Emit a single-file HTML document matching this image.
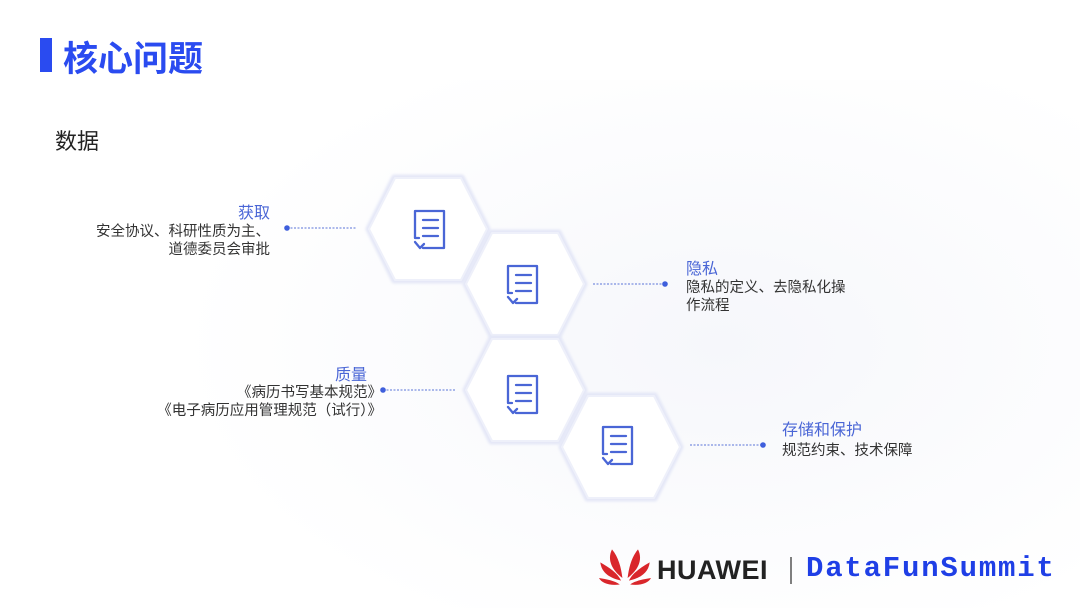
<!DOCTYPE html>
<html><head><meta charset="utf-8"><style>
html,body{margin:0;padding:0;background:#fff;}
body{width:1080px;height:608px;overflow:hidden;position:relative;font-family:"Liberation Sans","Noto Sans CJK SC",sans-serif;}
.t{position:absolute;white-space:nowrap;}
</style></head><body>
<svg width="1080" height="608" style="position:absolute;left:0;top:0">
<defs>
<radialGradient id="bg" cx="0.6" cy="0.5" r="0.6"><stop offset="0" stop-color="#f6f7fb"/><stop offset="1" stop-color="#fff"/></radialGradient>
<filter id="sh" x="-20%" y="-20%" width="140%" height="140%"><feGaussianBlur stdDeviation="1.2"/></filter>
<g id="ic" fill="none" stroke="#4a66d6" stroke-width="2.3" stroke-linecap="round" stroke-linejoin="round">
<path d="M-10,9 L-14,9 L-14,-18 L15,-18 L15,19 L-6,19"/>
<path d="M-14,13 L-9,19 L-5,15"/>
<line x1="-6" y1="-9" x2="9" y2="-9"/><line x1="-6" y1="-1" x2="9" y2="-1"/><line x1="-6" y1="7" x2="9" y2="7"/>
</g>
<g id="hx"><polygon points="-60,0 -34,-52 34,-52 60,0 34,52 -34,52" fill="none" stroke="#e4e7f7" stroke-width="5" stroke-linejoin="round" filter="url(#sh)"/><polygon points="-59,0 -33,-51 33,-51 59,0 33,51 -33,51" fill="#fff" stroke="#eef0fa" stroke-width="2" stroke-linejoin="round"/></g>
</defs>
<rect x="180" y="80" width="900" height="528" fill="url(#bg)"/>
<rect x="40" y="38" width="12" height="34" fill="#2a4bf0"/>
<use href="#hx" x="428" y="229"/>
<use href="#hx" x="525" y="284"/>
<use href="#hx" x="525" y="390"/>
<use href="#hx" x="621" y="447"/>
<use href="#ic" x="429" y="229"/>
<use href="#ic" x="522" y="284"/>
<use href="#ic" x="522" y="394"/>
<use href="#ic" x="617" y="445"/>
<g stroke="#5a74d8" stroke-width="1" stroke-dasharray="2,1.5">
<line x1="287" y1="228" x2="357" y2="228"/>
<line x1="593" y1="284" x2="665" y2="284"/>
<line x1="383" y1="390" x2="455" y2="390"/>
<line x1="690" y1="445" x2="763" y2="445"/>
</g>
<g fill="#3f5fdc"><circle cx="287" cy="228" r="2.8"/><circle cx="665" cy="284" r="2.8"/><circle cx="383" cy="390" r="2.8"/><circle cx="763" cy="445" r="2.8"/></g>
<g transform="translate(625,578) scale(1.3)">
<g fill="#d9262b">
<path d="M-2,0 C-10,-6 -14,-14 -10,-22 C-5,-16 -3,-8 -2,0Z"/>
<path d="M2,0 C10,-6 14,-14 10,-22 C5,-16 3,-8 2,0Z"/>
<path d="M-3,2 C-12,0 -18,-4 -19,-12 C-12,-8 -6,-4 -3,2Z"/>
<path d="M3,2 C12,0 18,-4 19,-12 C12,-8 6,-4 3,2Z"/>
<path d="M-4,5 C-12,6 -18,4 -20,0 C-14,1 -8,2 -4,5Z"/>
<path d="M4,5 C12,6 18,4 20,0 C14,1 8,2 4,5Z"/>
</g></g>
<line x1="791" y1="557" x2="791" y2="584" stroke="#555" stroke-width="1.5"/>
</svg>
<div class="t" style="left:63px;top:31px;font-size:35px;font-weight:bold;color:#2a4bf0;">核心问题</div>
<div class="t" style="left:55px;top:124px;font-size:22px;color:#222;">数据</div>

<div class="t" style="right:810px;top:199px;font-size:16px;color:#4a66d6;text-align:right;">获取</div>
<div class="t" style="right:810px;top:223px;font-size:14.5px;line-height:18px;color:#333;text-align:right;">安全协议、科研性质为主、<br>道德委员会审批</div>

<div class="t" style="left:686px;top:255px;font-size:16px;color:#4a66d6;">隐私</div>
<div class="t" style="left:686px;top:279px;font-size:14.5px;line-height:18px;color:#333;">隐私的定义、去隐私化操<br>作流程</div>

<div class="t" style="right:713px;top:361px;font-size:16px;color:#4a66d6;text-align:right;">质量</div>
<div class="t" style="right:698px;top:384px;font-size:14.5px;line-height:18px;color:#333;text-align:right;">《病历书写基本规范》<br>《电子病历应用管理规范（试行）》</div>

<div class="t" style="left:782px;top:416px;font-size:16px;color:#4a66d6;">存储和保护</div>
<div class="t" style="left:782px;top:439px;font-size:14.5px;color:#333;">规范约束、技术保障</div>

<div class="t" style="left:657px;top:555px;font-size:27px;font-weight:bold;color:#222;letter-spacing:0.5px;">HUAWEI</div>
<div class="t" style="left:806px;top:552px;font-size:29px;font-weight:bold;color:#1f3fe6;font-family:'Liberation Mono',monospace;letter-spacing:1.8px;">DataFunSummit</div>
</body></html>
